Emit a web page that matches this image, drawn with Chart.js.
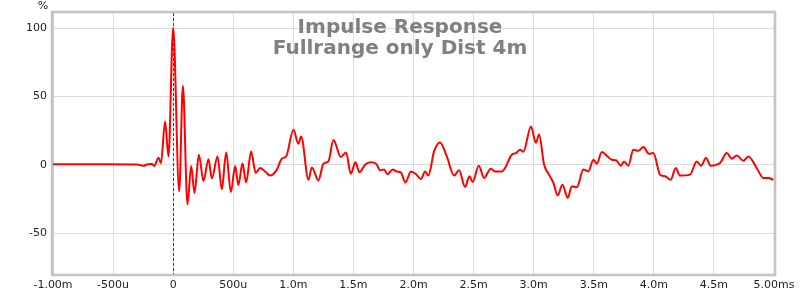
<!DOCTYPE html>
<html>
<head>
<meta charset="utf-8">
<script src="https://cdn.jsdelivr.net/npm/chart.js@4/dist/chart.umd.min.js"></script>
<style>
    html, body { margin: 0; padding: 0; background: #fff; }
    #wrap { width: 800px; height: 295px; position: relative; }
</style>
</head>
<body>
<div id="wrap"><canvas id="irChart"></canvas></div>
<script>
// Impulse response, time in ms, amplitude in %
const timeMs = [
    -1.0, -0.6, -0.3, -0.25, -0.21, -0.177, -0.158, -0.122, -0.102, -0.067, -0.039, 0.0,
    0.050, 0.081, 0.119, 0.150, 0.177, 0.214, 0.252, 0.294, 0.322, 0.369, 0.405, 0.441,
    0.480, 0.516, 0.543, 0.577, 0.607, 0.649, 0.686, 0.724, 0.765, 0.807, 0.863, 0.904,
    0.940, 1.001, 1.042, 1.065, 1.126, 1.154, 1.209, 1.250, 1.292, 1.334, 1.395, 1.439,
    1.478, 1.517, 1.550, 1.597, 1.645, 1.689, 1.722, 1.755, 1.783, 1.828, 1.861, 1.894,
    1.933, 1.978, 2.022, 2.061, 2.097, 2.124, 2.171, 2.221, 2.277, 2.338, 2.379, 2.429,
    2.465, 2.493, 2.543, 2.587, 2.643, 2.679, 2.735, 2.762, 2.818, 2.854, 2.887, 2.914,
    2.978, 3.018, 3.045, 3.087, 3.128, 3.164, 3.200, 3.239, 3.284, 3.317, 3.359, 3.414,
    3.455, 3.497, 3.525, 3.567, 3.608, 3.650, 3.686, 3.725, 3.752, 3.788, 3.829, 3.871,
    3.913, 3.960, 3.996, 4.052, 4.093, 4.141, 4.182, 4.218, 4.301, 4.357, 4.393, 4.434,
    4.473, 4.551, 4.607, 4.650, 4.690, 4.745, 4.786, 4.856, 4.911, 4.953, 4.994
];
const percent = [
    0.3, 0.3, 0.2, -0.8, 0.3, 0.5, -1, 5, 1, 31.6, 6, 100,
    -19.5, 57.7, -29, -1, -20.7, 7.3, -12, 4, -10, 6, -18, 9,
    -20, -1, -15, 1, -13, 9.7, -6, -2.4, -5, -8, -3.6, 4.4,
    6, 25.5, 15.3, 20.7, -11, -2, -11.5, 0.7, 2.4, 18, 5.6, 9,
    -6.6, 1.7, -5.6, 0, 1.7, 0.7, -4, -3.6, -7, -3.6, -5, -5.6,
    -13, -5, -7, -10.5, -5, -8, 9.7, 16.3, 6, -8, -4, -16.3,
    -8.5, -12.6, -0.7, -9.7, -2.9, -5, -5, -2.4, 7.3, 8.5, 11, 9.5,
    28, 16, 22, 0, -7.3, -13.4, -22.6, -14.6, -24.3, -15.8, -16.5, -3.6,
    -4.9, 3.6, 0.7, 9.2, 6.6, 3.6, 3.2, -0.7, 2.4, -0.7, 11, 10.2,
    12.9, 8, 8.5, -7.3, -8.5, -11, -2.4, -8, -7.3, 2.4, -0.7, 4.9,
    -0.7, 1.2, 8.5, 4.4, 6.8, 2.9, 6, -2.4, -9.7, -9.7, -11
];

const xTickValues = [-1, -0.5, 0, 0.5, 1, 1.5, 2, 2.5, 3, 3.5, 4, 4.5, 5];
const xTickLabels = ['-1.00m', '-500u', '0', '500u', '1.0m', '1.5m', '2.0m', '2.5m', '3.0m', '3.5m', '4.0m', '4.5m', '5.00ms'];
const yTickValues = [-50, 0, 50, 100];
const titleLines = ['Impulse Response', 'Fullrange only Dist 4m'];

const points = timeMs.map((t, i) => ({ x: t, y: percent[i] }));

// frame round the plot, dashed marker at t=0, title and unit label
const decorPlugin = {
    id: 'decor',
    afterDatasetsDraw(chart) {
        const ctx = chart.ctx;
        const a = chart.chartArea;
        const x0 = chart.scales.x.getPixelForValue(0);

        ctx.save();
        ctx.strokeStyle = '#e00000';
        ctx.lineWidth = 1;
        ctx.setLineDash([3, 2]);
        ctx.beginPath();
        ctx.moveTo(Math.round(x0) + 0.5, a.top);
        ctx.lineTo(Math.round(x0) + 0.5, a.bottom);
        ctx.stroke();
        ctx.restore();

        ctx.save();
        ctx.shadowColor = 'rgba(0,0,0,0.25)';
        ctx.shadowBlur = 2;
        ctx.strokeStyle = '#c4c4c4';
        ctx.lineWidth = 2;
        ctx.strokeRect(a.left - 1, a.top - 1, a.right - a.left + 2, a.bottom - a.top + 2);
        ctx.restore();

        ctx.save();
        ctx.fillStyle = '#808080';
        ctx.font = 'bold 20px "DejaVu Sans"';
        ctx.textAlign = 'center';
        ctx.textBaseline = 'alphabetic';
        ctx.fillText(titleLines[0], 400, 33);
        ctx.fillText(titleLines[1], 400, 54);

        ctx.fillStyle = '#222';
        ctx.font = '11px "DejaVu Sans"';
        ctx.textAlign = 'center';
        ctx.fillText('%', 43, 9);
        ctx.restore();
    }
};

const ctx = document.getElementById('irChart').getContext('2d');
new Chart(ctx, {
    type: 'line',
    data: {
        datasets: [{
            data: points,
            borderColor: '#ff0000',
            borderWidth: 2,
            pointRadius: 0,
            cubicInterpolationMode: 'monotone',
            fill: false
        }]
    },
    options: {
        responsive: true,
        maintainAspectRatio: false,
        animation: false,
        layout: { padding: { top: 13, right: 26, left: 0, bottom: 0 } },
        plugins: {
            legend: { display: false },
            tooltip: { enabled: false }
        },
        scales: {
            x: {
                type: 'linear',
                min: -1,
                max: 5,
                afterBuildTicks(scale) {
                    scale.ticks = xTickValues.map(v => ({ value: v }));
                },
                afterFit(scale) { scale.height = 21; },
                ticks: {
                    autoSkip: false,
                    maxRotation: 0,
                    padding: 5,
                    color: '#222',
                    font: { family: '"DejaVu Sans"', size: 11 },
                    callback: (v, i) => xTickLabels[i]
                },
                grid: { color: '#dcdcdc', lineWidth: 1, drawTicks: false },
                border: { display: false }
            },
            y: {
                min: -80,
                max: 111,
                afterBuildTicks(scale) {
                    scale.ticks = yTickValues.map(v => ({ value: v }));
                },
                afterFit(scale) { scale.width = 53; },
                ticks: {
                    padding: 6,
                    color: '#222',
                    font: { family: '"DejaVu Sans"', size: 11 },
                    callback: v => String(v)
                },
                grid: { color: '#dcdcdc', lineWidth: 1, drawTicks: false },
                border: { display: false }
            }
        }
    },
    plugins: [decorPlugin]
});
</script>
</body>
</html>
